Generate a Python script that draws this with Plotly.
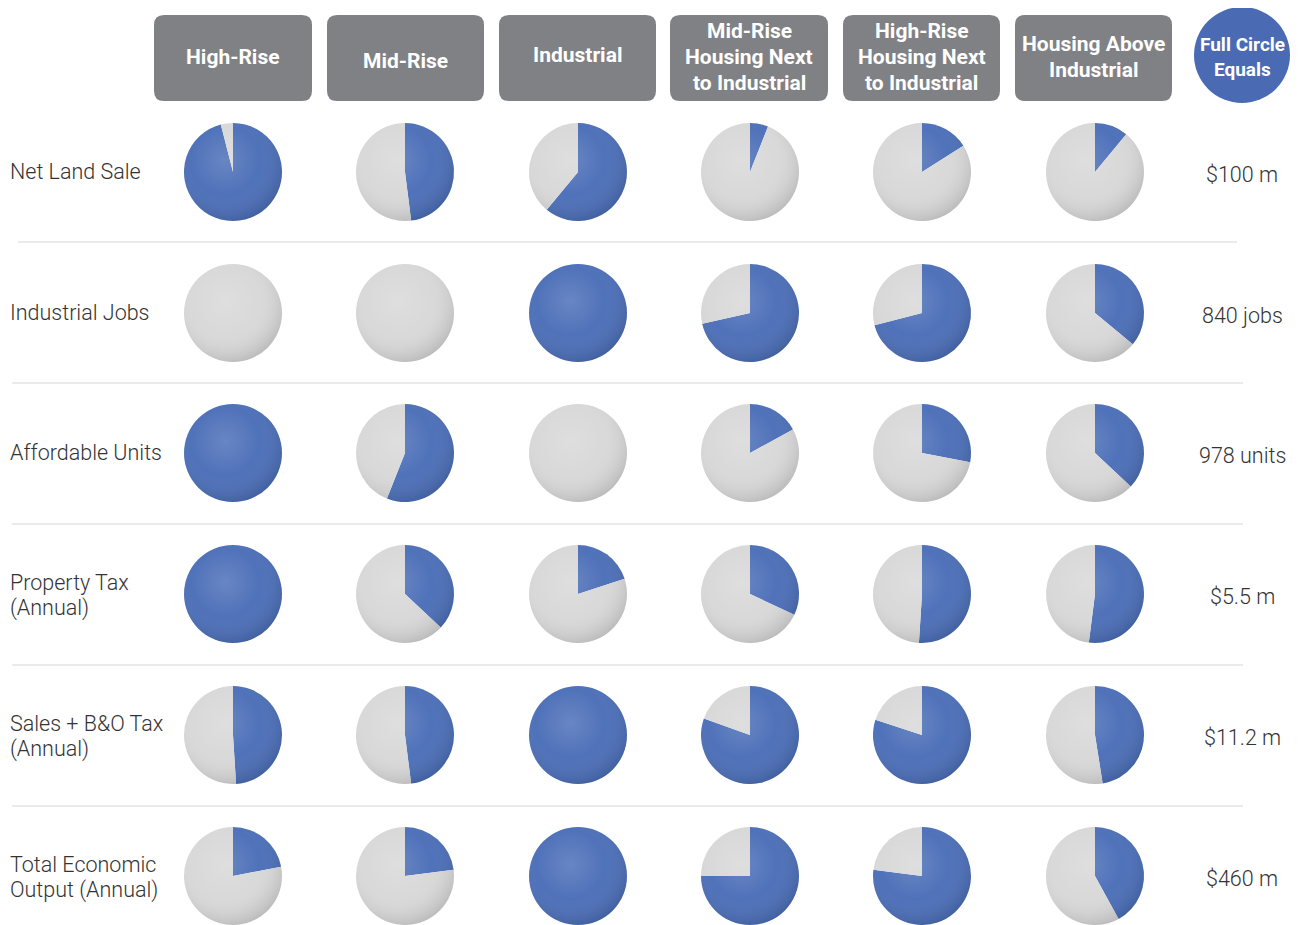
import base64
import plotly.graph_objects as go

# target canvas is 1298x925; the page body adds an 8px margin, so the figure is
# drawn 8px smaller and the axes are offset so pixel coordinates line up.
W, H = 1298, 925
OFF = 8
FW, FH = W - OFF, H - OFF

columns = ["High-Rise", "Mid-Rise", "Industrial",
           "Mid-Rise<br>Housing Next<br>to Industrial",
           "High-Rise<br>Housing Next<br>to Industrial",
           "Housing Above<br>Industrial"]
row_labels = ["Net Land Sale", "Industrial Jobs", "Affordable Units",
              "Property Tax<br>(Annual)", "Sales + B&O Tax<br>(Annual)",
              "Total Economic<br>Output (Annual)"]
full_circle = ["$100 m", "840 jobs", "978 units", "$5.5 m", "$11.2 m", "$460 m"]

# share of the full circle (blue part) per row, columns in order above
net_land_sale = [0.96, 0.48, 0.61, 0.06, 0.16, 0.11]
industrial_jobs = [0.0, 0.0, 1.0, 0.715, 0.71, 0.36]
affordable_units = [1.0, 0.56, 0.0, 0.17, 0.28, 0.37]
property_tax = [1.0, 0.37, 0.20, 0.32, 0.51, 0.52]
sales_bo_tax = [0.49, 0.48, 1.0, 0.805, 0.80, 0.475]
total_output = [0.22, 0.23, 1.0, 0.75, 0.77, 0.42]
shares = [net_land_sale, industrial_jobs, affordable_units,
          property_tax, sales_bo_tax, total_output]

BLUE = "#4c6fb8"
GRAY = "#d8d8d8"
HEADER = "#808184"
TEXT = "#333333"

col_x = [233, 405, 578, 750, 922, 1095]
row_y = [172, 313, 453, 594, 735, 876]
R = 49
right_x = 1242
LINE = 26

def px(x):
    return (x - OFF) / FW

def py(y):
    return 1 - (y - OFF) / FH

fig = go.Figure()

for i, row in enumerate(shares):
    for j, v in enumerate(row):
        cx, cy = col_x[j], row_y[i]
        fig.add_trace(go.Pie(
            values=[v, 1 - v], labels=["Share", "Remainder"],
            marker=dict(colors=[BLUE, GRAY], line=dict(width=0)),
            sort=False, direction="clockwise", rotation=0,
            textinfo="none", hoverinfo="skip", showlegend=False,
            domain=dict(x=[px(cx - R), px(cx + R)], y=[py(cy + R), py(cy - R)]),
        ))

shapes = []
annotations = []
images = []

svg = ("<svg xmlns='http://www.w3.org/2000/svg' width='200' height='200'>"
       "<defs><radialGradient id='g' cx='0.42' cy='0.38' r='0.64'>"
       "<stop offset='0' stop-color='white' stop-opacity='0.16'/>"
       "<stop offset='0.55' stop-color='white' stop-opacity='0.02'/>"
       "<stop offset='1' stop-color='black' stop-opacity='0.13'/>"
       "</radialGradient></defs>"
       "<circle cx='100' cy='100' r='100' fill='url(#g)'/></svg>")
uri = "data:image/svg+xml;base64," + base64.b64encode(svg.encode()).decode()
for cy in row_y:
    for cx in col_x:
        images.append(dict(source=uri, xref="paper", yref="paper",
                           x=px(cx - R), y=py(cy - R), sizex=2 * R / FW, sizey=2 * R / FH,
                           xanchor="left", yanchor="top", sizing="stretch", layer="above"))

def multiline(text, x, yc, font, xanchor="center"):
    lines = text.split("<br>")
    n = len(lines)
    for k, ln in enumerate(lines):
        annotations.append(dict(x=x, y=yc + (k - (n - 1) / 2) * LINE, xref="x", yref="y",
                                text=ln, showarrow=False, xanchor=xanchor,
                                yanchor="middle", font=font))

# header boxes
box_x = [(154, 312), (327, 484), (499, 656), (670, 828), (843, 1000), (1015, 1172)]
y0, y1 = 15, 101
r = 10
text_y = [57, 61, 55, 57, 57, 57]
hfont = dict(family="Roboto", size=21, color="white", weight=700)
for (x0, x1), name, ty in zip(box_x, columns, text_y):
    path = (f"M {x0 + r},{y0} L {x1 - r},{y0} Q {x1},{y0} {x1},{y0 + r} "
            f"L {x1},{y1 - r} Q {x1},{y1} {x1 - r},{y1} L {x0 + r},{y1} "
            f"Q {x0},{y1} {x0},{y1 - r} L {x0},{y0 + r} Q {x0},{y0} {x0 + r},{y0} Z")
    shapes.append(dict(type="path", xref="x", yref="y", path=path,
                       fillcolor=HEADER, line=dict(width=0), layer="below"))
    multiline(name, (x0 + x1) / 2, ty, hfont)

# full circle badge
shapes.append(dict(type="circle", xref="x", yref="y", x0=1194, x1=1290, y0=7, y1=103,
                   fillcolor="#4a6ab4", line=dict(width=0), layer="below"))
annotations.append(dict(x=right_x, y=44, xref="x", yref="y", text="Full Circle",
                        showarrow=False, yanchor="middle",
                        font=dict(family="Roboto", size=19, color="white", weight=700)))
annotations.append(dict(x=right_x, y=69, xref="x", yref="y", text="Equals",
                        showarrow=False, yanchor="middle",
                        font=dict(family="Roboto", size=19, color="white", weight=700)))

# separators
sep = [(242, 18, 1237), (383, 12, 1243), (524, 12, 1243), (665, 12, 1243), (806, 12, 1243)]
for y, xa, xb in sep:
    shapes.append(dict(type="line", xref="x", yref="y", x0=xa, x1=xb, y0=y, y1=y,
                       line=dict(color="#e4e4e4", width=1.5), layer="below"))

lfont = dict(family="Roboto", size=21.5, color=TEXT, weight=300)
for lab, cy in zip(row_labels, row_y):
    dy = 1 if "<br>" in lab else -1
    multiline(lab, 8, cy + dy, lfont, xanchor="left")

for val, cy in zip(full_circle, row_y):
    annotations.append(dict(x=right_x, y=cy + 2, xref="x", yref="y", text=val,
                            showarrow=False, xanchor="center", yanchor="middle",
                            font=dict(family="Roboto", size=21.5, color=TEXT, weight=300)))

fig.update_layout(
    width=FW, height=FH, margin=dict(l=0, r=0, t=0, b=0),
    paper_bgcolor="white", plot_bgcolor="white",
    xaxis=dict(range=[OFF, W], visible=False, fixedrange=True),
    yaxis=dict(range=[H, OFF], visible=False, fixedrange=True),
    shapes=shapes, annotations=annotations, images=images,
    showlegend=False,
)

fig.write_html("out.html")
